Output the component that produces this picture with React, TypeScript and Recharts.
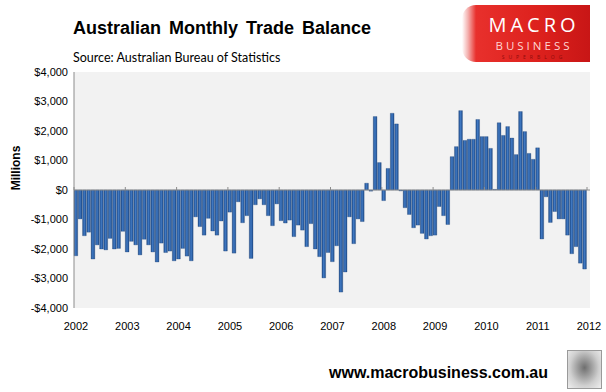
import { BarChart, Bar, XAxis, YAxis, CartesianGrid, ReferenceLine } from "recharts"

// monthly trade balance, $ millions
const bal2002 = [-2230, -980, -1550, -1430, -2340, -1860, -2000, -2030, -1640, -2000, -1980, -1400]
const bal2003 = [-2100, -1740, -1860, -2200, -1670, -1860, -2100, -2440, -1800, -2120, -2070, -2400]
const bal2004 = [-2340, -1980, -2240, -2400, -910, -1240, -1530, -960, -1390, -1530, -1050, -2070]
const bal2005 = [-750, -2140, -400, -1110, -870, -2320, -500, -300, -500, -870, -1210, -470]
const bal2006 = [-1040, -1120, -1020, -1580, -1190, -1360, -1920, -1140, -2000, -2260, -2980, -2120]
const bal2007 = [-2430, -1890, -3460, -2780, -910, -1820, -980, -1070, 230, -40, 2490, 930]
const bal2008 = [-360, 730, 2600, 2240, -30, -600, -830, -1280, -1190, -1470, -1660, -1550]
const bal2009 = [-1530, -560, -870, -1170, 1130, 1470, 2690, 1680, 1720, 1720, 2390, 1810]
const bal2010 = [1810, 1410, 20, 2280, 1850, 2150, 1760, 1200, 2660, 1980, 1240, 1040]
const bal2011 = [1430, -1660, -230, -1100, -730, -980, -980, -1530, -2160, -1920, -2480, -2680]

const years = [2002, 2003, 2004, 2005, 2006, 2007, 2008, 2009, 2010, 2011, 2012]
const yTicks = [-4000, -3000, -2000, -1000, 0, 1000, 2000, 3000, 4000]

const balances = [
  ...bal2002, ...bal2003, ...bal2004, ...bal2005, ...bal2006,
  ...bal2007, ...bal2008, ...bal2009, ...bal2010, ...bal2011,
]

// x is the month index, bar centred inside its month
const data = balances.map((value, i) => ({ x: i + 0.5, value }))
const yearTicks = years.map((_, i) => i * 12)

const PLOT_TOP = 72
const PLOT_H = 236
const ZERO_Y = PLOT_TOP + PLOT_H / 2
const AXIS_GREY = "#8c8c8c"
const FONT = "'Liberation Sans', Arial, sans-serif"

function fmtMoney(v: number) {
  const s = "$" + Math.abs(v).toLocaleString("en-US")
  return v < 0 ? "-" + s : s
}

function YearTick(props: any) {
  const { x, payload } = props
  return (
    <g>
      <line x1={x} x2={x} y1={ZERO_Y - 3} y2={ZERO_Y} stroke={AXIS_GREY} />
      <text x={x + 2} y={PLOT_TOP + PLOT_H + 22} textAnchor="middle" fontSize={11} fill="#000" fontFamily={FONT}>
        {years[Math.round(payload.value / 12)]}
      </text>
    </g>
  )
}

function Logo() {
  return (
    <div
      style={{
        position: "absolute",
        left: 462,
        top: 5,
        width: 128,
        height: 57,
        background: "linear-gradient(to right, #ffffff 0px, #f4b0ae 6px, #e8302c 14px, #dd211d 60%, #c81616 100%)",
        borderRadius: "14px 0 0 14px",
        overflow: "hidden",
        textAlign: "center",
        fontFamily: "'Open Sans', Arial, sans-serif",
      }}
    >
      <div style={{ position: "absolute", left: 16, right: 0, top: 8, fontSize: 20, letterSpacing: 4, color: "#fff", lineHeight: "24px" }}>
        MACRO
      </div>
      <div style={{ position: "absolute", left: 16, right: 0, top: 34, fontSize: 11.5, letterSpacing: 3, color: "#ffd6d4", lineHeight: "14px" }}>
        BUSINESS
      </div>
      <div style={{ position: "absolute", left: 16, right: 0, top: 49, fontSize: 5, letterSpacing: 4, color: "#8e0c0c", lineHeight: "6px" }}>
        SUPERBLOG
      </div>
    </div>
  )
}

function Wolf() {
  return (
    <div
      style={{
        position: "absolute",
        left: 567,
        top: 350,
        width: 33,
        height: 37,
        border: "1px solid #9a9a9a",
        background: "radial-gradient(ellipse at 50% 45%, #6f6f6f 0%, #9d9d9d 30%, #cfcfcf 62%, #efefef 100%)",
      }}
    />
  )
}

export default function App() {
  return (
    <div style={{ position: "absolute", left: 0, top: 0, width: 606, height: 392, background: "#fff", fontFamily: FONT }}>
      <div style={{ position: "absolute", left: 73, top: 18, fontSize: 18, fontWeight: "bold", wordSpacing: 3, color: "#000", whiteSpace: "nowrap" }}>
        Australian Monthly Trade Balance
      </div>
      <div style={{ position: "absolute", left: 73, top: 50, fontSize: 12.5, color: "#000", fontFamily: "Lato, sans-serif", whiteSpace: "nowrap" }}>
        Source: Australian Bureau of Statistics
      </div>
      <Logo />
      <div
        style={{
          position: "absolute",
          left: 16,
          top: 168,
          transform: "translate(-50%, -50%) rotate(-90deg)",
          fontSize: 12,
          fontWeight: "bold",
          whiteSpace: "nowrap",
        }}
      >
        Millions
      </div>
      <BarChart width={606} height={392} data={data} margin={{ top: PLOT_TOP, right: 16, bottom: 54, left: 0 }}>
        <defs>
          <linearGradient id="barFill" x1="0" y1="0" x2="1" y2="0">
            <stop offset="0%" stopColor="#1f4d8c" />
            <stop offset="45%" stopColor="#4079c3" />
            <stop offset="100%" stopColor="#1f4d8c" />
          </linearGradient>
        </defs>
        <CartesianGrid fill="#f2f2f2" horizontal={false} vertical={false} />
        <XAxis
          type="number"
          dataKey="x"
          domain={[0, 120.7]}
          ticks={yearTicks}
          interval={0}
          axisLine={false}
          tickLine={false}
          tickSize={0}
          height={30}
          tick={<YearTick />}
        />
        <YAxis
          domain={[-4000, 4000]}
          ticks={yTicks}
          interval={0}
          width={74}
          tickLine={false}
          tickSize={4}
          tickMargin={2}
          axisLine={{ stroke: AXIS_GREY }}
          tickFormatter={fmtMoney}
          tick={{ fontSize: 11, fill: "#000", fontFamily: FONT }}
        />
        <ReferenceLine y={0} stroke={AXIS_GREY} strokeWidth={1.2} />
        <Bar dataKey="value" barSize={3.7} fill="url(#barFill)" stroke="#1a3f74" strokeWidth={0.3} isAnimationActive={false} />
      </BarChart>
      <div style={{ position: "absolute", left: 329, top: 364, fontSize: 16, fontWeight: "bold", color: "#000", whiteSpace: "nowrap" }}>
        www.macrobusiness.com.au
      </div>
      <Wolf />
    </div>
  )
}
